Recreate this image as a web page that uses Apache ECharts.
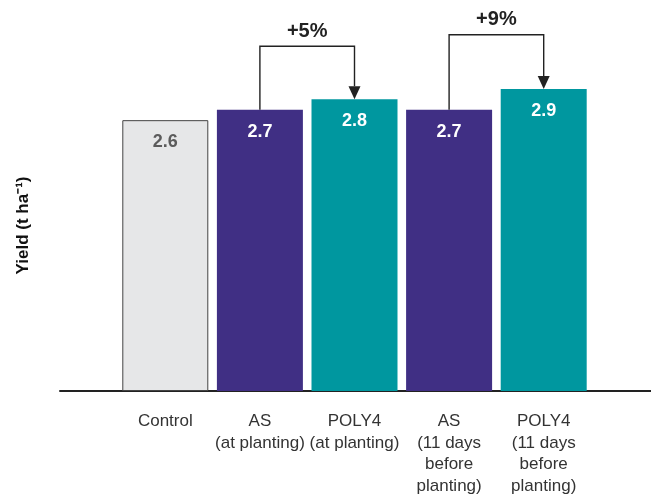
<!DOCTYPE html>
<html>
<head>
<meta charset="utf-8">
<script src="https://cdn.jsdelivr.net/npm/echarts@6/dist/echarts.min.js"></script>
<style>
  html, body { margin: 0; padding: 0; background: #fff; }
  #main { width: 651px; height: 497px; }
</style>
</head>
<body>
<div id="main"></div>
<script>
// data
var categories = ['Control', 'AS\n(at planting)', 'POLY4\n(at planting)', 'AS\n(11 days\nbefore\nplanting)', 'POLY4\n(11 days\nbefore\nplanting)'];
var yields = [2.6, 2.7, 2.8, 2.7, 2.9];
var barColors = ['#e6e7e8', '#402f84', '#00979f', '#402f84', '#00979f'];
// [from bar, to bar, bracket level (t/ha), label]
var comparisons = [
  [1, 2, 3.31, '+5%'],
  [3, 4, 3.42, '+9%']
];

var chart = echarts.init(document.getElementById('main'));

var barData = yields.map(function (v, i) {
  var isControl = i === 0;
  return {
    value: v,
    itemStyle: {
      color: barColors[i],
      borderColor: isControl ? '#444' : barColors[i],
      borderWidth: isControl ? 1 : 0
    },
    label: { color: isControl ? '#5b5b5b' : '#fff' }
  };
});

function renderBracket(params, api) {
  var from = api.value(0), to = api.value(1), level = api.value(2);
  var p0 = api.coord([from, yields[from]]);
  var p1 = api.coord([from, level]);
  var p2 = api.coord([to, level]);
  var p3 = api.coord([to, yields[to]]);
  var ah = 13, aw = 6;
  return {
    type: 'group',
    children: [
      {
        type: 'polyline',
        shape: { points: [p0, p1, p2, [p3[0], p3[1] - ah]] },
        style: { stroke: '#222', lineWidth: 1.4, fill: null }
      },
      {
        type: 'polygon',
        shape: { points: [[p3[0] - aw, p3[1] - ah], [p3[0] + aw, p3[1] - ah], [p3[0], p3[1]]] },
        style: { fill: '#222' }
      },
      {
        type: 'text',
        x: (p1[0] + p2[0]) / 2,
        y: p1[1] - 15,
        style: {
          text: comparisons[params.dataIndex][3],
          fill: '#222',
          font: 'bold 20px "Liberation Sans", Arial, sans-serif',
          align: 'center',
          verticalAlign: 'middle'
        }
      }
    ]
  };
}

chart.setOption({
  animation: false,
  textStyle: { fontFamily: '"Liberation Sans", Arial, sans-serif' },
  grid: [
    { left: 118, right: 60, top: 16, bottom: 106 },
    { left: 60, right: 0, top: 16, bottom: 106 }
  ],
  xAxis: [
    {
      type: 'category',
      gridIndex: 0,
      data: categories,
      axisLine: { show: false },
      axisTick: { show: false },
      axisLabel: {
        color: '#333',
        fontSize: 17,
        lineHeight: 21.5,
        margin: 20,
        interval: 0
      }
    },
    {
      type: 'value',
      gridIndex: 1,
      min: 0,
      max: 1,
      axisLine: { show: true, lineStyle: { color: '#222', width: 2 } },
      axisTick: { show: false },
      axisLabel: { show: false },
      splitLine: { show: false }
    }
  ],
  yAxis: [
    {
      type: 'value',
      gridIndex: 0,
      min: 0,
      max: 3.6,
      axisLine: { show: false },
      axisTick: { show: false },
      axisLabel: { show: false },
      splitLine: { show: false },
      name: 'Yield (t ha\u207B\u00B9)',
      nameLocation: 'middle',
      nameGap: 86,
      nameTextStyle: {
        color: '#111',
        fontSize: 17,
        fontWeight: 'bold',
        padding: [0, 44, 0, 0]
      }
    },
    {
      type: 'value',
      gridIndex: 1,
      min: 0,
      max: 1,
      show: false
    }
  ],
  series: [
    {
      type: 'bar',
      xAxisIndex: 0,
      yAxisIndex: 0,
      barWidth: 86,
      data: barData,
      label: {
        show: true,
        position: 'insideTop',
        distance: 13,
        fontSize: 18,
        fontWeight: 'bold'
      }
    },
    {
      type: 'custom',
      xAxisIndex: 0,
      yAxisIndex: 0,
      renderItem: renderBracket,
      encode: { x: [0, 1], y: 2 },
      data: comparisons.map(function (c) { return [c[0], c[1], c[2]]; }),
      z: 5
    }
  ]
});
</script>
</body>
</html>
